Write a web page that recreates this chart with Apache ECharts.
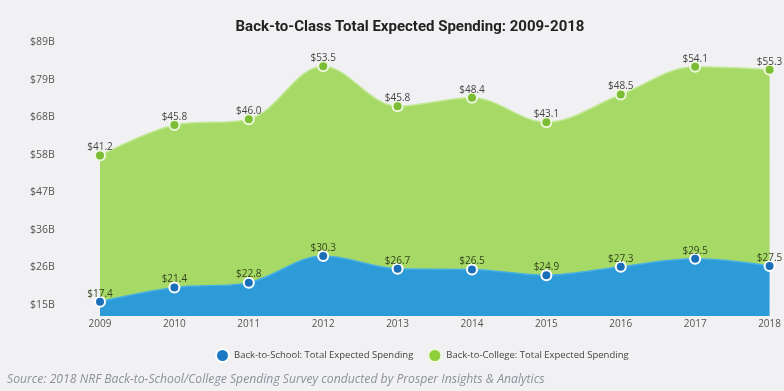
<!DOCTYPE html>
<html>
<head>
<meta charset="utf-8">
<script src="https://cdn.jsdelivr.net/npm/echarts@6/dist/echarts.min.js"></script>
<style>
html,body{margin:0;padding:0;background:#f1f1f3;}
#main{width:784px;height:391px;}
</style>
</head>
<body>
<div id="main"></div>
<script>
const years = ['2009','2010','2011','2012','2013','2014','2015','2016','2017','2018'];
const schoolValues = [17.4, 21.4, 22.8, 30.3, 26.7, 26.5, 24.9, 27.3, 29.5, 27.5];
const collegeValues = [41.2, 45.8, 46.0, 53.5, 45.8, 48.4, 43.1, 48.5, 54.1, 55.3];
const yTickLabels = ['$15B','$26B','$36B','$47B','$58B','$68B','$79B','$89B'];
const seriesNames = ['Back-to-School: Total Expected Spending','Back-to-College: Total Expected Spending'];
const titleText = 'Back-to-Class Total Expected Spending: 2009-2018';
const sourceText = 'Source: 2018 NRF Back-to-School/College Spending Survey conducted by Prosper Insights & Analytics';

const chart = echarts.init(document.getElementById('main'), null, {renderer:'canvas'});
const labelFmt = p => '$' + p.value.toFixed(1);
chart.setOption({
  backgroundColor: '#f1f1f3',
  animation: false,
  title: {
    text: titleText, left: 405, textAlign: 'center', top: 15,
    textStyle: {fontFamily: 'Roboto', fontWeight: 'bold', fontSize: 15, color: '#222'}
  },
  legend: {
    data: [
      {name: seriesNames[0], itemStyle: {color: '#1b78c4'}},
      {name: seriesNames[1], itemStyle: {color: '#8fcf3a'}}
    ],
    left: 210, top: 343, icon: 'circle', itemWidth: 13, itemHeight: 13, itemGap: 14,
    textStyle: {fontFamily: 'Open Sans', fontSize: 9.5, color: '#444'}
  },
  graphic: [{
    type: 'text', left: 7, top: 374,
    style: {text: sourceText, font: 'italic 12.2px "Open Sans"', fill: '#8a9099'}
  }],
  grid: [
    {left: 100, right: 11, top: 42, bottom: 75},
    {left: 100, right: 11, top: 42, bottom: 86}
  ],
  xAxis: [
    {type: 'category', data: years, boundaryGap: false, gridIndex: 0,
     axisLine: {show: false}, axisTick: {show: false},
     axisLabel: {margin: 3, fontFamily: 'Open Sans', fontSize: 10, color: '#555'}},
    {type: 'category', data: years, boundaryGap: false, gridIndex: 1, show: false}
  ],
  yAxis: [
    {type: 'value', min: 13.4, max: 90.6, gridIndex: 0, show: false, splitLine: {show: false}},
    {type: 'value', min: 0, max: 7, interval: 1, gridIndex: 1,
     axisLine: {show: false}, axisTick: {show: false}, splitLine: {show: false},
     axisLabel: {formatter: v => yTickLabels[v], align: 'left', margin: 70,
                 fontFamily: 'Open Sans', fontSize: 10.5, color: '#555'}}
  ],
  series: [
    {
      name: seriesNames[0], type: 'line', stack: 'total', data: schoolValues,
      xAxisIndex: 0, yAxisIndex: 0, smooth: 0.35,
      symbol: 'circle', symbolSize: 10,
      itemStyle: {color: '#1b6fb8', borderColor: '#ffffff', borderWidth: 2},
      lineStyle: {color: '#45aee3', width: 1.5},
      areaStyle: {color: '#2e9bd9', opacity: 1},
      label: {show: true, position: 'top', distance: 0, offset: [0, 3], formatter: labelFmt,
              fontFamily: 'Open Sans', fontSize: 10, color: '#34451c'}
    },
    {
      name: seriesNames[1], type: 'line', stack: 'total', data: collegeValues,
      xAxisIndex: 0, yAxisIndex: 0, smooth: 0.35,
      symbol: 'circle', symbolSize: 10,
      itemStyle: {color: '#7cbd36', borderColor: '#eef8e0', borderWidth: 2},
      lineStyle: {color: '#c2e897', width: 1.5},
      areaStyle: {color: '#a7d966', opacity: 1},
      label: {show: true, position: 'top', distance: 0, offset: [0, 3], formatter: labelFmt,
              fontFamily: 'Open Sans', fontSize: 10, color: '#444'}
    }
  ]
});
</script>
</body>
</html>
